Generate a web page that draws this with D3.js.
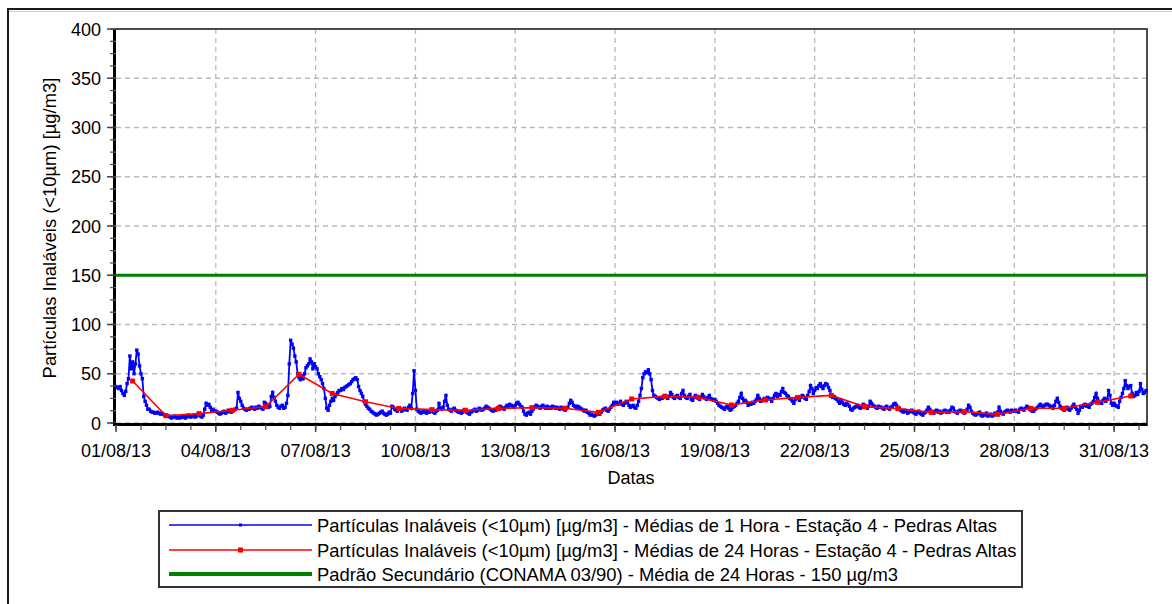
<!DOCTYPE html>
<html>
<head>
<meta charset="utf-8">
<script src="https://cdn.jsdelivr.net/npm/d3@7"></script>
<style>
  body { margin: 0; background: #fff; }
  svg text { font-family: "Liberation Sans", Arial, sans-serif; font-size: 18px; fill: #000; }
  svg .leg-text, svg .y-title { font-size: 18.4px; }
</style>
</head>
<body>
<div id="chart"></div>
<script>
// Dados - Estação 4 - Pedras Altas, agosto 2013
var inicio = new Date(2013, 7, 1, 0);

// médias de 1 hora, uma linha por dia (24 valores)
var mediasHora = [
  [37,36,35,37,33,30,28,32,40,45,68,55,62,50,60,74,70,58,50,45,27,22,18,14],
  [14,12,11,11,10,10,11,10,9,10,9,8,8,7,7,6,5,6,7,6,5,6,5,6],
  [6,7,5,6,8,7,6,7,8,6,7,9,8,7,6,8,14,20,18,19,16,13,14,12],
  [12,11,10,9,10,11,12,10,11,13,12,11,12,13,14,15,31,25,22,18,15,14,13,14],
  [14,15,16,15,14,16,15,17,16,15,14,21,20,18,16,17,27,31,26,22,18,16,15,17],
  [18,15,16,20,28,60,84,80,76,68,62,50,46,44,48,45,50,56,58,60,65,62,55,60],
  [57,55,50,47,44,40,35,25,15,13,18,22,25,23,27,29,31,33,33,35,34,36,37,38],
  [39,40,42,44,45,46,44,37,33,30,27,22,19,17,15,14,12,11,10,9,8,9,10,11],
  [12,10,9,8,9,11,10,17,16,14,13,12,15,14,12,13,15,14,13,16,18,15,30,53],
  [33,14,12,11,10,11,12,11,10,12,11,13,12,11,10,12,13,20,15,14,16,22,28,18],
  [14,13,12,14,15,13,12,11,12,10,11,13,12,11,10,9,11,12,13,14,12,13,15,14],
  [13,14,15,17,16,15,14,13,12,14,13,15,16,17,16,15,14,16,18,17,19,18,17,16],
  [18,20,21,19,17,16,12,9,8,10,11,9,12,14,16,18,17,16,15,17,18,16,15,17],
  [15,16,15,17,16,15,16,15,14,16,15,14,13,15,16,20,23,21,18,17,16,17,16,15],
  [14,13,12,13,11,10,8,9,8,7,8,9,10,9,11,13,14,15,13,12,14,16,18,21],
  [20,21,19,20,22,19,18,20,22,21,18,16,17,18,16,15,18,22,28,35,46,50,52,51],
  [54,50,44,33,28,27,26,25,24,26,25,27,28,26,25,27,31,29,26,25,27,28,26,25],
  [30,33,28,26,25,27,29,24,23,26,28,27,25,24,26,29,27,25,24,26,28,25,24,23],
  [24,22,20,18,17,16,15,14,16,17,15,13,14,16,17,18,20,22,26,30,25,22,23,21],
  [18,20,19,21,20,22,24,28,25,22,23,24,25,23,26,25,24,22,25,28,30,27,29,28],
  [32,35,31,30,28,27,25,24,22,20,24,26,25,23,26,28,27,25,24,28,32,38,35,30],
  [33,36,35,38,40,37,35,38,40,39,36,33,28,26,27,25,24,22,20,23,21,19,18,20],
  [19,17,14,13,15,16,17,18,16,15,17,19,18,16,15,17,22,20,18,17,16,15,17,16],
  [16,15,14,16,17,15,14,16,17,19,20,18,16,15,13,12,11,13,12,10,11,12,13,11],
  [10,9,11,12,10,9,8,10,11,13,16,14,12,11,10,12,13,11,12,10,11,12,13,11],
  [12,11,13,16,15,12,11,10,12,13,12,11,10,12,14,18,16,12,10,9,8,9,10,11],
  [8,7,9,8,10,7,8,9,7,8,10,9,11,16,12,10,9,11,12,13,12,11,13,12],
  [12,13,12,11,14,15,14,13,15,17,16,14,13,12,12,14,15,16,18,19,17,16,18,19],
  [19,18,16,17,15,18,22,25,21,17,15,14,13,15,16,14,13,15,17,19,16,14,10,13],
  [17,16,18,19,17,18,16,19,20,22,26,30,25,22,21,20,23,25,22,24,33,28,20,18],
  [20,18,17,16,22,26,30,35,43,38,35,37,38,30,27,28,31,29,32,40,34,30,31,33]
];

// médias de 24 horas (uma por dia, ao meio-dia)
var medias24h = [42.6, 7.4, 9.5, 13, 16.5, 49.5, 30, 21.5, 14.8, 13.6, 13, 14.7, 15.6, 15, 10.8,
                 24.4, 27, 26, 18.3, 23.4, 26, 28, 16.6, 14.6, 10.8, 11.5, 8.8, 14.9, 14.9, 21, 27.4];

var padrao = 150;
var yTicks = [0, 50, 100, 150, 200, 250, 300, 350, 400];

var legendas = [
  "Partículas Inaláveis (<10µm) [µg/m3] - Médias de 1 Hora - Estação 4 - Pedras Altas",
  "Partículas Inaláveis (<10µm) [µg/m3] - Médias de 24 Horas - Estação 4 - Pedras Altas",
  "Padrão Secundário (CONAMA 03/90) - Média de 24 Horas - 150 µg/m3"
];
var cores = ["#0000ff", "#ff0000", "#008000"];

(function() {
  // séries
  var serieHora = [];
  mediasHora.forEach(function(dia, d) {
    dia.forEach(function(v, h) {
      serieHora.push({ t: new Date(2013, 7, 1 + d, h), v: v });
    });
  });
  var serie24 = medias24h.map(function(v, d) {
    return { t: new Date(2013, 7, 1 + d, 12), v: v };
  });
  var fim = serieHora[serieHora.length - 1].t;

  // dimensões
  var width = 1172, height = 604;
  var mL = 116, mR = 1146, mT = 29, mB = 423;

  var svg = d3.select("#chart").append("svg")
    .attr("width", width)
    .attr("height", height);

  // moldura externa
  svg.append("rect")
    .attr("x", 8).attr("y", 9)
    .attr("width", 1200).attr("height", 700)
    .attr("fill", "none").attr("stroke", "#1a1a1a").attr("stroke-width", 2);
  svg.append("line")
    .attr("x1", 9).attr("x2", width).attr("y1", 11.5).attr("y2", 11.5)
    .attr("stroke", "#cfcfcf").attr("stroke-width", 1);

  var x = d3.scaleTime().domain([inicio, fim]).range([mL, mR]);
  var y = d3.scaleLinear().domain([0, 400]).range([mB, mT]);

  var majorX = d3.timeDay.every(3).range(inicio, new Date(2013, 8, 1));
  var minorX = d3.range(0, 31 * 24, 18).map(function(h) { return d3.timeHour.offset(inicio, h); });
  var minorY = d3.range(0, 400.1, 12.5);

  // grade
  svg.append("g").selectAll("line")
    .data(yTicks.filter(function(d) { return d < 400; }))
    .enter().append("line")
    .attr("x1", mL).attr("x2", mR)
    .attr("y1", function(d) { return y(d); }).attr("y2", function(d) { return y(d); })
    .attr("stroke", "#bababa").attr("stroke-width", 1.3).attr("stroke-dasharray", "5,4");

  svg.append("g").selectAll("line")
    .data(majorX.slice(1))
    .enter().append("line")
    .attr("x1", function(d) { return x(d); }).attr("x2", function(d) { return x(d); })
    .attr("y1", mT).attr("y2", mB)
    .attr("stroke", "#bababa").attr("stroke-width", 1.3).attr("stroke-dasharray", "5,4");

  // borda superior / direita
  svg.append("path")
    .attr("d", "M" + mL + "," + mT + "H" + (mR + 1) + "V" + (mB + 3))
    .attr("fill", "none").attr("stroke", "#4a4a4a").attr("stroke-width", 2);

  // padrão
  svg.append("line")
    .attr("x1", mL).attr("x2", mR)
    .attr("y1", y(padrao)).attr("y2", y(padrao))
    .attr("stroke", cores[2]).attr("stroke-width", 3);

  var linha = d3.line()
    .x(function(d) { return x(d.t); })
    .y(function(d) { return y(d.v); });

  // médias de 1 hora
  svg.append("path")
    .datum(serieHora)
    .attr("d", linha)
    .attr("fill", "none").attr("stroke", cores[0]).attr("stroke-width", 1.8);
  svg.append("g").selectAll("rect")
    .data(serieHora)
    .enter().append("rect")
    .attr("x", function(d) { return x(d.t) - 1.7; })
    .attr("y", function(d) { return y(d.v) - 1.7; })
    .attr("width", 3.4).attr("height", 3.4)
    .attr("fill", cores[0]);

  // médias de 24 horas
  svg.append("path")
    .datum(serie24)
    .attr("d", linha)
    .attr("fill", "none").attr("stroke", cores[1]).attr("stroke-width", 1.6);
  svg.append("g").selectAll("rect")
    .data(serie24)
    .enter().append("rect")
    .attr("x", function(d) { return x(d.t) - 2.5; })
    .attr("y", function(d) { return y(d.v) - 2.5; })
    .attr("width", 5).attr("height", 5)
    .attr("fill", cores[1]);

  // eixo Y
  var eixoY = svg.append("g");
  eixoY.append("line")
    .attr("x1", mL - 1.5).attr("x2", mL - 1.5)
    .attr("y1", mT).attr("y2", mB + 3)
    .attr("stroke", "#000").attr("stroke-width", 3);
  eixoY.append("g").selectAll("line")
    .data(minorY)
    .enter().append("line")
    .attr("x1", mL - 6).attr("x2", mL)
    .attr("y1", function(d) { return y(d); }).attr("y2", function(d) { return y(d); })
    .attr("stroke", "#555").attr("stroke-width", 1.3);
  eixoY.append("g").selectAll("line")
    .data(yTicks)
    .enter().append("line")
    .attr("x1", mL - 9).attr("x2", mL)
    .attr("y1", function(d) { return y(d); }).attr("y2", function(d) { return y(d); })
    .attr("stroke", "#444").attr("stroke-width", 1.5);
  eixoY.append("g").selectAll("text")
    .data(yTicks)
    .enter().append("text")
    .attr("x", 101)
    .attr("y", function(d) { return y(d) + 6.5; })
    .attr("text-anchor", "end")
    .text(function(d) { return d; });

  // eixo X
  var eixoX = svg.append("g");
  eixoX.append("line")
    .attr("x1", mL - 3).attr("x2", mR + 1)
    .attr("y1", mB + 1.5).attr("y2", mB + 1.5)
    .attr("stroke", "#000").attr("stroke-width", 3);
  eixoX.append("g").selectAll("line")
    .data(minorX)
    .enter().append("line")
    .attr("x1", function(d) { return x(d); }).attr("x2", function(d) { return x(d); })
    .attr("y1", mB + 2).attr("y2", mB + 7)
    .attr("stroke", "#555").attr("stroke-width", 1.3);
  eixoX.append("g").selectAll("line")
    .data(majorX)
    .enter().append("line")
    .attr("x1", function(d) { return x(d); }).attr("x2", function(d) { return x(d); })
    .attr("y1", mB + 2).attr("y2", mB + 9)
    .attr("stroke", "#444").attr("stroke-width", 1.5);
  eixoX.append("g").selectAll("text")
    .data(majorX)
    .enter().append("text")
    .attr("x", function(d) { return x(d); })
    .attr("y", 457)
    .attr("text-anchor", "middle")
    .text(d3.timeFormat("%d/%m/%y"));

  // títulos dos eixos
  svg.append("text")
    .attr("x", (mL + mR) / 2).attr("y", 484)
    .attr("text-anchor", "middle")
    .text("Datas");
  svg.append("text")
    .attr("class", "y-title")
    .attr("transform", "translate(56,228) rotate(-90)")
    .attr("text-anchor", "middle")
    .text("Partículas Inaláveis (<10µm) [µg/m3]");

  // legenda
  var leg = svg.append("g");
  leg.append("rect")
    .attr("x", 159).attr("y", 511)
    .attr("width", 863).attr("height", 76)
    .attr("fill", "#fff").attr("stroke", "#333").attr("stroke-width", 2);

  var itens = leg.selectAll("g.item")
    .data(legendas)
    .enter().append("g")
    .attr("class", "item")
    .attr("transform", function(d, i) { return "translate(0," + [525, 550, 574][i] + ")"; });

  itens.append("line")
    .attr("x1", 169).attr("x2", 312)
    .attr("stroke", function(d, i) { return cores[i]; })
    .attr("stroke-width", function(d, i) { return i === 2 ? 4 : 1.6; });
  itens.filter(function(d, i) { return i < 2; }).append("rect")
    .attr("x", function(d, i) { return i === 0 ? 239 : 238; })
    .attr("y", function(d, i) { return i === 0 ? -1.5 : -2.5; })
    .attr("width", function(d, i) { return i === 0 ? 3 : 5; })
    .attr("height", function(d, i) { return i === 0 ? 3 : 5; })
    .attr("fill", function(d, i) { return cores[i]; });
  itens.append("text")
    .attr("class", "leg-text")
    .attr("x", 317).attr("y", 6.5)
    .text(function(d) { return d; });
})();
</script>
</body>
</html>
